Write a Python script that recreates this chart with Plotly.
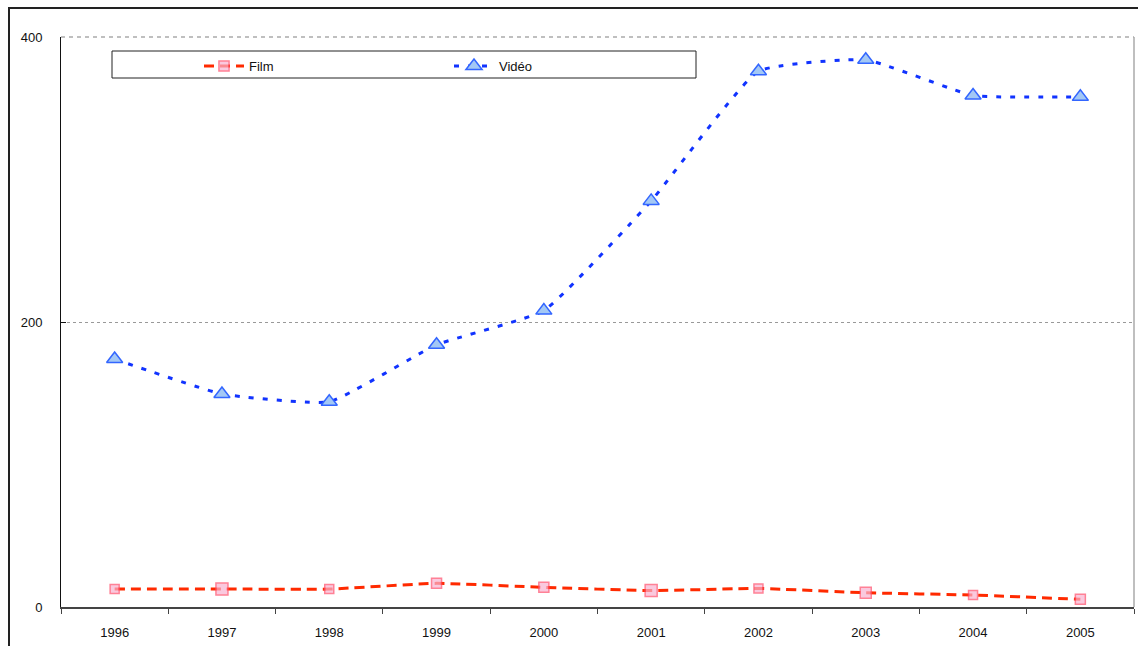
import plotly.graph_objects as go

years = ["1996", "1997", "1998", "1999", "2000", "2001", "2002", "2003", "2004", "2005"]
film = [12.6, 12.6, 12.6, 16.6, 13.8, 11.5, 13.0, 10.0, 8.4, 5.4]
video = [174, 149.5, 144, 184, 208, 285, 376, 384, 359, 358]

# plot area in pixels
L, R, T, B = 61, 4, 37, 39
W, H = 1138, 646
pw, ph = W - L - R, H - T - B

FONT = "Liberation Sans, Arial, sans-serif"


def px_x(x):
    return (x - L) / pw


def px_y(y):
    return 1 - (y - T) / ph


fig = go.Figure()

fig.add_trace(go.Scatter(
    x=years, y=film, name="Film", mode="lines+markers",
    line=dict(color="#FF2A00", width=3, dash="10px,6px", shape="spline", smoothing=0.4),
    marker=dict(symbol="square", size=[9, 12, 9, 10, 10, 12, 9, 11, 9, 10],
                color="#F9B3D1", line=dict(color="#FF4D6A", width=1.5)),
))
fig.add_trace(go.Scatter(
    x=years, y=video, name="Vidéo", mode="lines+markers",
    line=dict(color="#1133FF", width=3, dash="5px,9px", shape="spline", smoothing=0.4),
    marker=dict(symbol="triangle-up", size=14,
                color="#A3C8F5", line=dict(color="#3366FF", width=1.5)),
))

shapes = [
    # outer frame
    dict(type="rect", xref="paper", yref="paper",
         x0=px_x(9), x1=px_x(1150), y0=px_y(660), y1=px_y(8),
         line=dict(color="#222222", width=2), layer="below"),
    # right border of plot area
    dict(type="line", xref="paper", yref="paper", x0=1, x1=1, y0=0, y1=1,
         line=dict(color="#AAAAAA", width=1.5)),
    # top border of plot area
    dict(type="line", xref="paper", yref="paper", x0=0, x1=1, y0=1, y1=1,
         line=dict(color="#AAAAAA", width=1.5, dash="4px,4px")),
    # legend frame
    dict(type="rect", xref="paper", yref="paper",
         x0=px_x(112), x1=px_x(696), y0=px_y(78), y1=px_y(51),
         line=dict(color="#222222", width=1), fillcolor="white", layer="below"),
]

fig.update_layout(
    width=W, height=H,
    margin=dict(l=L, r=R, t=T, b=B),
    paper_bgcolor="white", plot_bgcolor="rgba(0,0,0,0)",
    font=dict(family=FONT, size=13, color="#111111"),
    shapes=shapes,
    showlegend=True,
    legend=dict(
        orientation="h", x=px_x(199), y=px_y(51), xanchor="left", yanchor="top",
        bgcolor="rgba(0,0,0,0)", borderwidth=0, font=dict(family=FONT, size=13),
        entrywidth=195, entrywidthmode="pixels", itemwidth=40,
        tracegroupgap=0,
    ),
    xaxis=dict(
        type="category", showgrid=False, showline=True, linecolor="#444444", linewidth=2,
        ticks="outside", tickson="boundaries", ticklen=5, tickcolor="#444444",
        range=[-0.5, 9.5], ticklabelstandoff=12, zeroline=False,
    ),
    yaxis=dict(
        range=[0, 400], tickvals=[0, 200, 400], showline=True, linecolor="#111111",
        linewidth=1, ticks="inside", ticklen=5, tickcolor="#111111",
        showgrid=True, gridcolor="#999999", griddash="dot", gridwidth=1,
        zeroline=False, ticklabelstandoff=15,
    ),
)

fig.write_html("out.html")
